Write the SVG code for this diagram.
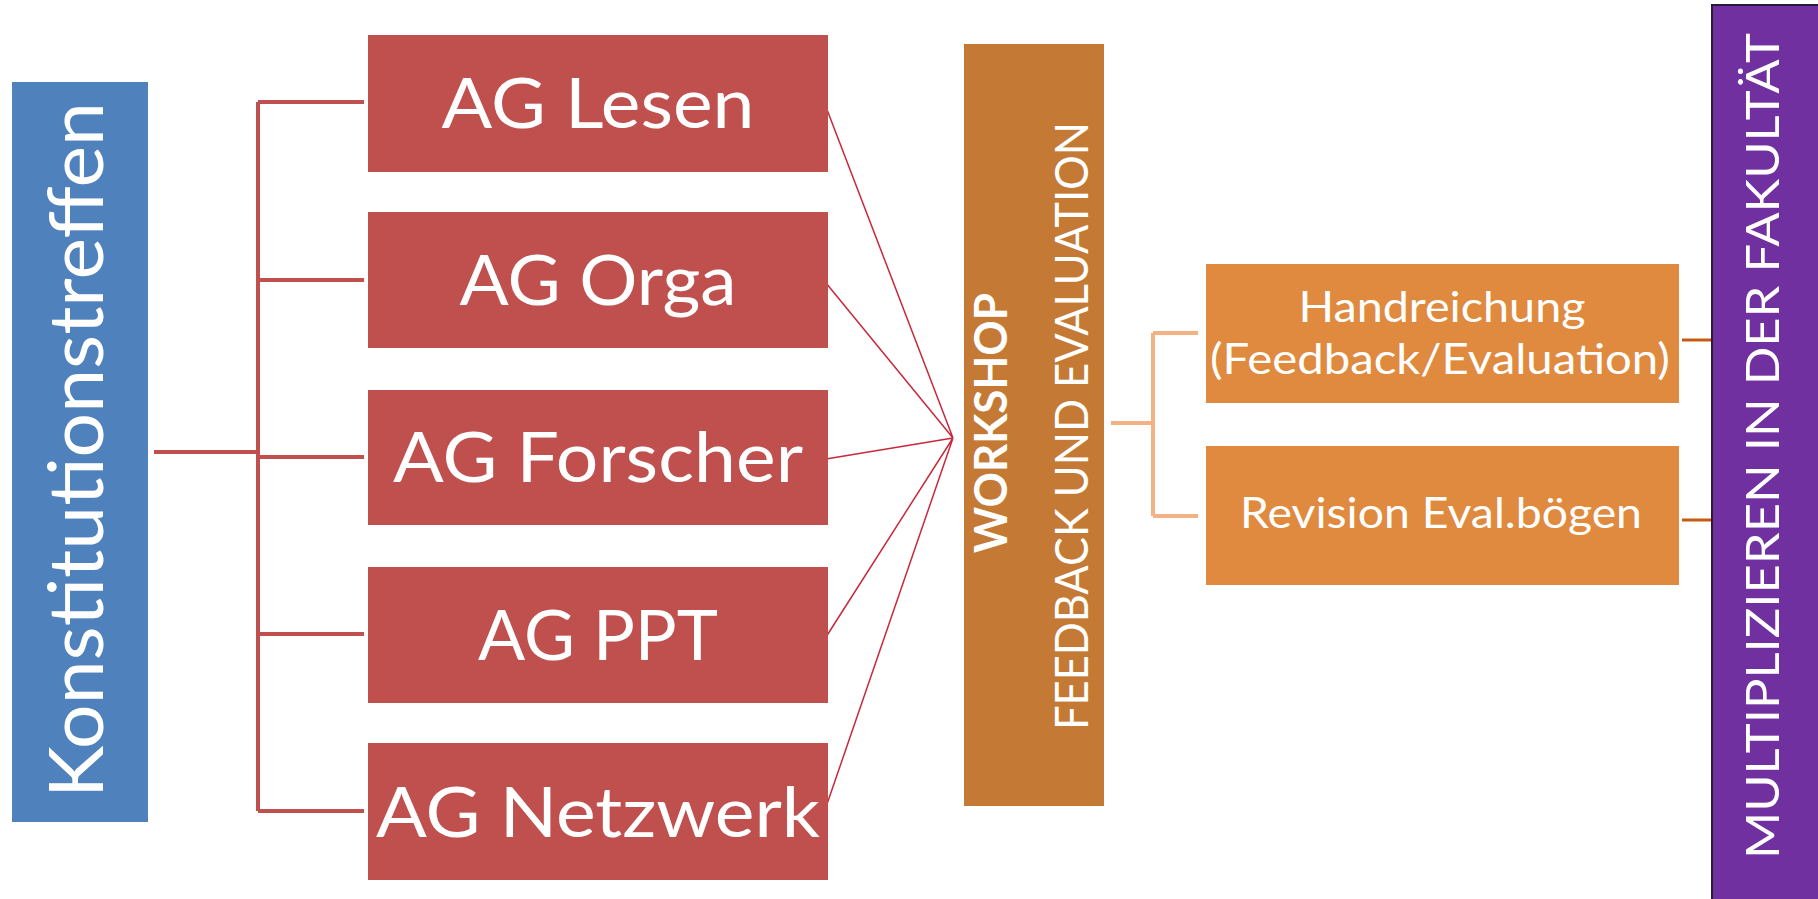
<svg xmlns="http://www.w3.org/2000/svg" width="1818" height="899" viewBox="0 0 1818 899">
<style>
.t{font-family:Lato,"Open Sans","Liberation Sans",sans-serif;fill:#ffffff}
.ag{font-size:69px;text-anchor:middle}
.or{font-size:42px;text-anchor:middle}
.rot{text-anchor:middle}
.red{fill:#C0504D}
.brk{stroke:#C0504D;stroke-width:4;fill:none}
.thin{stroke:#C8283C;stroke-width:1.5;fill:none}
.obrk{stroke:#F4B183;stroke-width:4;fill:none}
.oline{stroke:#C55A11;stroke-width:3;fill:none}
</style>
<rect x="0" y="0" width="1818" height="899" fill="#ffffff"/>
<g id="connectors">
<path class="brk" d="M154 452 H258 M258 102 V811 M258 102 H364 M258 280 H364 M258 457 H364 M258 634 H364 M258 811 H364"/>
<path class="thin" d="M826 107 L953 438 M826 283 L953 438 M826 459 L953 438 M826 637 L953 438 M826 807 L953 438"/>
<path class="obrk" d="M1111 423 H1153 M1153 333 V516 M1153 333 H1198 M1153 516 H1198"/>
<path class="oline" d="M1682 340 H1712 M1682 520 H1712"/>
</g>
<g id="konstitutionstreffen">
<rect x="12" y="82" width="136" height="740" fill="#4F81BD"/>
<text class="t rot" font-size="76" transform="translate(103,450) rotate(-90)" textLength="696" lengthAdjust="spacingAndGlyphs">Konstitutionstreffen</text>
</g>
<g id="ag-lesen">
<rect class="red" x="368" y="35" width="460" height="137"/>
<text class="t ag" x="598" y="128" textLength="313" lengthAdjust="spacingAndGlyphs">AG Lesen</text>
</g>
<g id="ag-orga">
<rect class="red" x="368" y="212" width="460" height="136"/>
<text class="t ag" x="598" y="305" textLength="277" lengthAdjust="spacingAndGlyphs">AG Orga</text>
</g>
<g id="ag-forscher">
<rect class="red" x="368" y="390" width="460" height="135"/>
<text class="t ag" x="598" y="482" textLength="410" lengthAdjust="spacingAndGlyphs">AG Forscher</text>
</g>
<g id="ag-ppt">
<rect class="red" x="368" y="567" width="460" height="136"/>
<text class="t ag" x="598" y="660" textLength="240" lengthAdjust="spacingAndGlyphs">AG PPT</text>
</g>
<g id="ag-netzwerk">
<rect class="red" x="368" y="743" width="460" height="137"/>
<text class="t ag" x="598" y="837" textLength="444" lengthAdjust="spacingAndGlyphs">AG Netzwerk</text>
</g>
<g id="workshop">
<rect x="964" y="44" width="140" height="762" fill="#C47A35"/>
<text class="t rot" font-size="46" font-weight="bold" transform="translate(1007,423) rotate(-90)" textLength="260" lengthAdjust="spacingAndGlyphs">WORKSHOP</text>
<text class="t rot" font-size="46" transform="translate(1088,426) rotate(-90)" textLength="608" lengthAdjust="spacingAndGlyphs">FEEDBACK UND EVALUATION</text>
</g>
<g id="handreichung">
<rect x="1206" y="264" width="473" height="139" fill="#DF8A3E"/>
<text class="t or" x="1442" y="322" textLength="287" lengthAdjust="spacingAndGlyphs">Handreichung</text>
<text class="t or" x="1440" y="374" textLength="460" lengthAdjust="spacingAndGlyphs">(Feedback/Evaluation)</text>
</g>
<g id="revision">
<rect x="1206" y="446" width="473" height="139" fill="#DF8A3E"/>
<text class="t or" x="1441" y="528" textLength="402" lengthAdjust="spacingAndGlyphs">Revision Eval.bögen</text>
</g>
<g id="multiplizieren">
<rect x="1712" y="5" width="108" height="896" fill="#7030A0" stroke="#2a1a3a" stroke-width="2"/>
<text class="t rot" font-size="46" transform="translate(1779,446) rotate(-90)" textLength="826" lengthAdjust="spacingAndGlyphs">MULTIPLIZIEREN IN DER FAKULTÄT</text>
</g>
</svg>
